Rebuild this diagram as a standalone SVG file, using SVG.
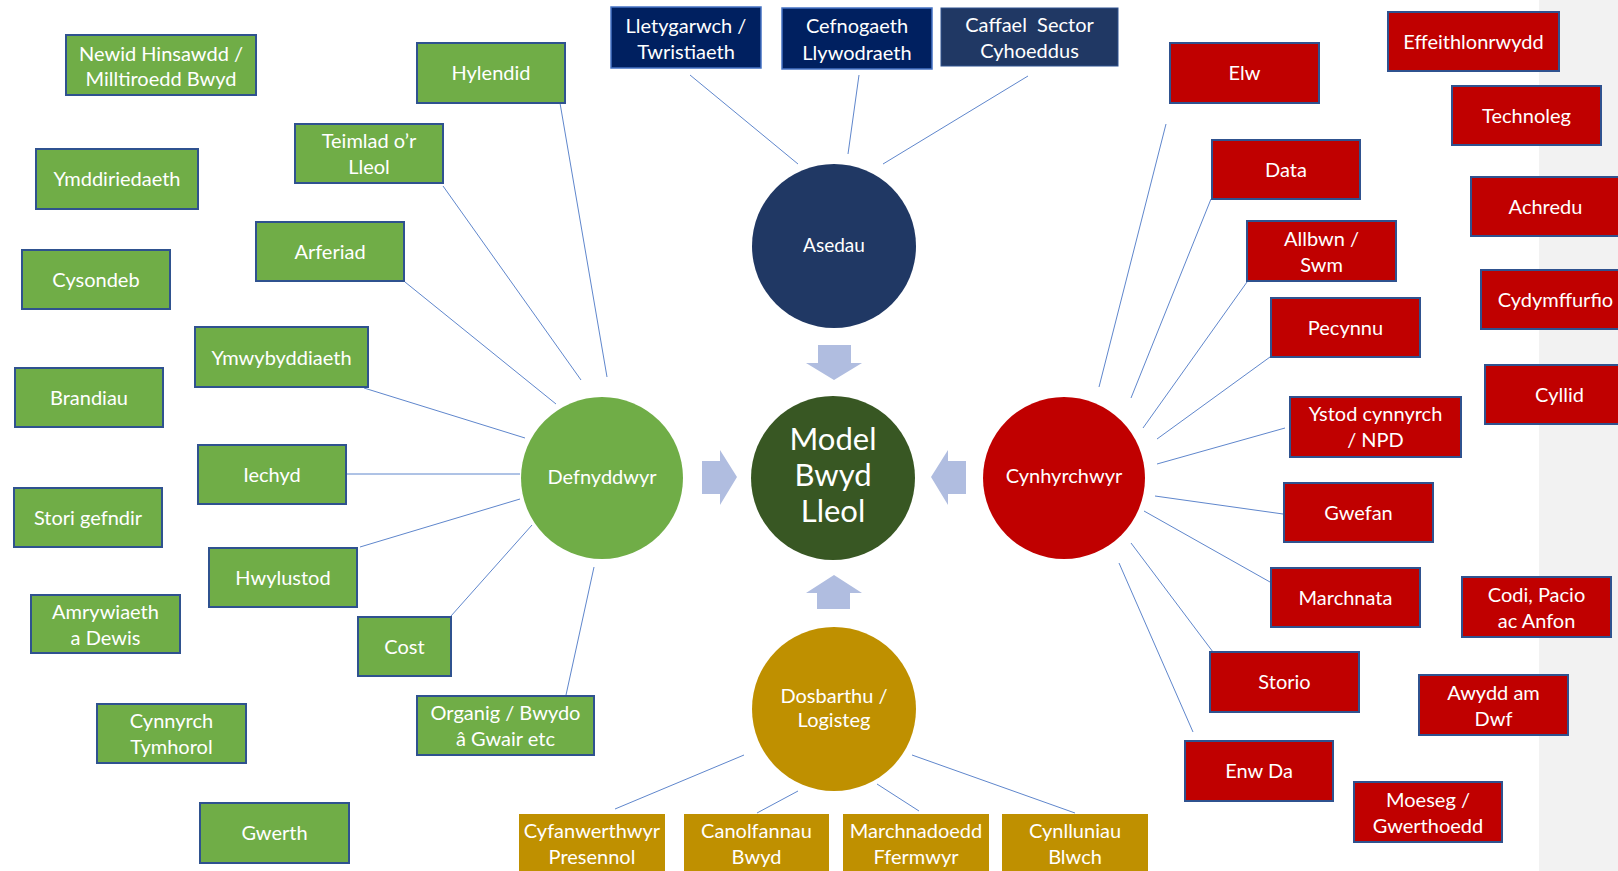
<svg xmlns="http://www.w3.org/2000/svg" width="1618" height="871" viewBox="0 0 1618 871">
<style>
text{font-family:Lato,"Liberation Sans",sans-serif;fill:#fff;text-anchor:middle;font-size:20px}
.g rect{fill:#70AD47;stroke:#2F528F;stroke-width:2}
.r rect{fill:#C00000;stroke:#2F528F;stroke-width:2}
.n rect{fill:#002060;stroke:#4472C4;stroke-width:1.5}
.o rect{fill:#BF9000}
#connectors line{stroke:#4472C4;stroke-width:1;opacity:0.85}
.arrow{fill:#B0BDE0}
</style>
<rect x="1539" y="0" width="79" height="871" fill="#F2F2F2"/>
<g id="connectors">
<line x1="560" y1="103" x2="607" y2="377"/>
<line x1="443" y1="186" x2="581" y2="380"/>
<line x1="405" y1="282" x2="556" y2="404"/>
<line x1="364" y1="388" x2="525" y2="438"/>
<line x1="346" y1="474" x2="520" y2="474"/>
<line x1="360" y1="547" x2="520" y2="499"/>
<line x1="451" y1="616" x2="532" y2="525"/>
<line x1="566" y1="695" x2="594" y2="567"/>
<line x1="690" y1="75" x2="798" y2="164"/>
<line x1="859" y1="75" x2="848" y2="154"/>
<line x1="1028" y1="76" x2="883" y2="164"/>
<line x1="1166" y1="124" x2="1099" y2="387"/>
<line x1="1211" y1="199" x2="1131" y2="398"/>
<line x1="1247" y1="282" x2="1143" y2="428"/>
<line x1="1270" y1="357" x2="1157" y2="439"/>
<line x1="1285" y1="428" x2="1157" y2="464"/>
<line x1="1155" y1="496" x2="1283" y2="514"/>
<line x1="1144" y1="511" x2="1270" y2="582"/>
<line x1="1131" y1="543" x2="1213" y2="652"/>
<line x1="1119" y1="563" x2="1193" y2="732"/>
<line x1="615" y1="809" x2="744" y2="755"/>
<line x1="757" y1="813" x2="798" y2="791"/>
<line x1="919" y1="811" x2="877" y2="784"/>
<line x1="1075" y1="813" x2="912" y2="755"/>
</g>
<g id="arrows">
<polygon class="arrow" points="818,345 851,345 851,363 862,363 834,380 806,363 818,363"/>
<polygon class="arrow" points="834,575 862,593 850,593 850,609 817,609 817,593 806,593"/>
<polygon class="arrow" points="702,461 720,461 720,450 737,477 720,505 720,494 702,494"/>
<polygon class="arrow" points="931,477 948,450 948,461 966,461 966,494 948,494 948,505"/>
</g>
<g id="asedau"><circle cx="834" cy="246" r="82" fill="#203864"/><text x="834" y="252" style="font-size:19px">Asedau</text></g>
<g id="defnyddwyr"><circle cx="602" cy="478" r="81" fill="#70AD47"/><text x="602" y="484">Defnyddwyr</text></g>
<g id="model"><circle cx="833" cy="478" r="82" fill="#385723"/><text x="833" y="450" style="font-size:31px">Model</text><text x="833" y="486" style="font-size:31px">Bwyd</text><text x="833" y="522" style="font-size:31px">Lleol</text></g>
<g id="cynhyrchwyr"><circle cx="1064" cy="478" r="81" fill="#C00000"/><text x="1064" y="483">Cynhyrchwyr</text></g>
<g id="dosbarthu"><circle cx="834" cy="709" r="82" fill="#BF9000"/><text x="834" y="703">Dosbarthu /</text><text x="834" y="727">Logisteg</text></g>

<g id="newid" class="g"><rect x="66" y="35" width="190" height="60"/><text x="161" y="60.5">Newid Hinsawdd /</text><text x="161" y="86">Milltiroedd Bwyd</text></g>
<g id="hylendid" class="g"><rect x="417" y="43" width="148" height="60"/><text x="491" y="80">Hylendid</text></g>
<g id="teimlad" class="g"><rect x="295" y="124" width="148" height="59"/><text x="369" y="147.5">Teimlad o’r</text><text x="369" y="173.5">Lleol</text></g>
<g id="ymddiriedaeth" class="g"><rect x="36" y="149" width="162" height="60"/><text x="117" y="186">Ymddiriedaeth</text></g>
<g id="arferiad" class="g"><rect x="256" y="222" width="148" height="59"/><text x="330" y="258.5">Arferiad</text></g>
<g id="cysondeb" class="g"><rect x="22" y="250" width="148" height="59"/><text x="96" y="286.5">Cysondeb</text></g>
<g id="ymwybyddiaeth" class="g"><rect x="195" y="327" width="173" height="60"/><text x="281.5" y="364.5">Ymwybyddiaeth</text></g>
<g id="brandiau" class="g"><rect x="15" y="368" width="148" height="59"/><text x="89" y="404.5">Brandiau</text></g>
<g id="iechyd" class="g"><rect x="198" y="445" width="148" height="59"/><text x="272" y="481.5">Iechyd</text></g>
<g id="stori" class="g"><rect x="14" y="488" width="148" height="59"/><text x="88" y="524.5">Stori gefndir</text></g>
<g id="hwylustod" class="g"><rect x="209" y="548" width="148" height="59"/><text x="283" y="584.5">Hwylustod</text></g>
<g id="amrywiaeth" class="g"><rect x="31" y="595" width="149" height="58"/><text x="105.5" y="618.5">Amrywiaeth</text><text x="105.5" y="644.5">a Dewis</text></g>
<g id="cost" class="g"><rect x="358" y="617" width="93" height="59"/><text x="404.5" y="653.5">Cost</text></g>
<g id="organig" class="g"><rect x="417" y="696" width="177" height="59"/><text x="505.5" y="720">Organig / Bwydo</text><text x="505.5" y="746">â Gwair etc</text></g>
<g id="cynnyrch" class="g"><rect x="97" y="704" width="149" height="59"/><text x="171.5" y="727.5">Cynnyrch</text><text x="171.5" y="753.5">Tymhorol</text></g>
<g id="gwerth" class="g"><rect x="200" y="803" width="149" height="60"/><text x="274.5" y="840">Gwerth</text></g>

<g id="lletygarwch" class="n"><rect x="611" y="7" width="150" height="61"/><text x="686" y="32.5">Lletygarwch /</text><text x="686" y="59">Twristiaeth</text></g>
<g id="cefnogaeth" class="n"><rect x="782" y="8" width="150" height="61"/><text x="857" y="33">Cefnogaeth</text><text x="857" y="59.5">Llywodraeth</text></g>
<g id="caffael"><rect x="941" y="8" width="177" height="58" fill="#203864" stroke="#2F528F" stroke-width="1"/><text x="1029.5" y="32" style="white-space:pre">Caffael  Sector</text><text x="1029.5" y="57.5">Cyhoeddus</text></g>

<g id="elw" class="r"><rect x="1170" y="43" width="149" height="60"/><text x="1244.5" y="80">Elw</text></g>
<g id="effeithlonrwydd" class="r"><rect x="1388" y="12" width="171" height="59"/><text x="1473.5" y="49">Effeithlonrwydd</text></g>
<g id="technoleg" class="r"><rect x="1452" y="86" width="149" height="59"/><text x="1526.5" y="122.5">Technoleg</text></g>
<g id="data" class="r"><rect x="1212" y="140" width="148" height="59"/><text x="1286" y="176.5">Data</text></g>
<g id="achredu" class="r"><rect x="1471" y="177" width="149" height="59"/><text x="1545.5" y="213.5">Achredu</text></g>
<g id="allbwn" class="r"><rect x="1247" y="221" width="149" height="60"/><text x="1321.5" y="245.5">Allbwn /</text><text x="1321.5" y="271.5">Swm</text></g>
<g id="cydymffurfio" class="r"><rect x="1481" y="270" width="149" height="59"/><text x="1555.5" y="306.5">Cydymffurfio</text></g>
<g id="pecynnu" class="r"><rect x="1271" y="298" width="149" height="59"/><text x="1345.5" y="334.5">Pecynnu</text></g>
<g id="cyllid" class="r"><rect x="1485" y="365" width="149" height="59"/><text x="1559.5" y="401.5">Cyllid</text></g>
<g id="ystod" class="r"><rect x="1290" y="397" width="171" height="60"/><text x="1375.5" y="421">Ystod cynnyrch</text><text x="1375.5" y="447">/ NPD</text></g>
<g id="gwefan" class="r"><rect x="1284" y="483" width="149" height="59"/><text x="1358.5" y="519.5">Gwefan</text></g>
<g id="marchnata" class="r"><rect x="1271" y="568" width="149" height="59"/><text x="1345.5" y="604.5">Marchnata</text></g>
<g id="codi" class="r"><rect x="1462" y="577" width="149" height="60"/><text x="1536.5" y="601.5">Codi, Pacio</text><text x="1536.5" y="627.5">ac Anfon</text></g>
<g id="storio" class="r"><rect x="1210" y="652" width="149" height="60"/><text x="1284.5" y="689">Storio</text></g>
<g id="awydd" class="r"><rect x="1419" y="675" width="149" height="60"/><text x="1493.5" y="699.5">Awydd am</text><text x="1493.5" y="725.5">Dwf</text></g>
<g id="enwda" class="r"><rect x="1185" y="741" width="148" height="60"/><text x="1259" y="778">Enw Da</text></g>
<g id="moeseg" class="r"><rect x="1354" y="782" width="148" height="60"/><text x="1428" y="806.5">Moeseg /</text><text x="1428" y="832.5">Gwerthoedd</text></g>

<g id="cyfanwerthwyr" class="o"><rect x="519" y="814" width="146" height="60"/><text x="592" y="837.5">Cyfanwerthwyr</text><text x="592" y="863.5">Presennol</text></g>
<g id="canolfannau" class="o"><rect x="684" y="814" width="145" height="60"/><text x="756.5" y="837.5">Canolfannau</text><text x="756.5" y="863.5">Bwyd</text></g>
<g id="marchnadoedd" class="o"><rect x="843" y="814" width="146" height="60"/><text x="916" y="837.5">Marchnadoedd</text><text x="916" y="863.5">Ffermwyr</text></g>
<g id="cynlluniau" class="o"><rect x="1002" y="814" width="146" height="60"/><text x="1075" y="837.5">Cynlluniau</text><text x="1075" y="863.5">Blwch</text></g>
</svg>
